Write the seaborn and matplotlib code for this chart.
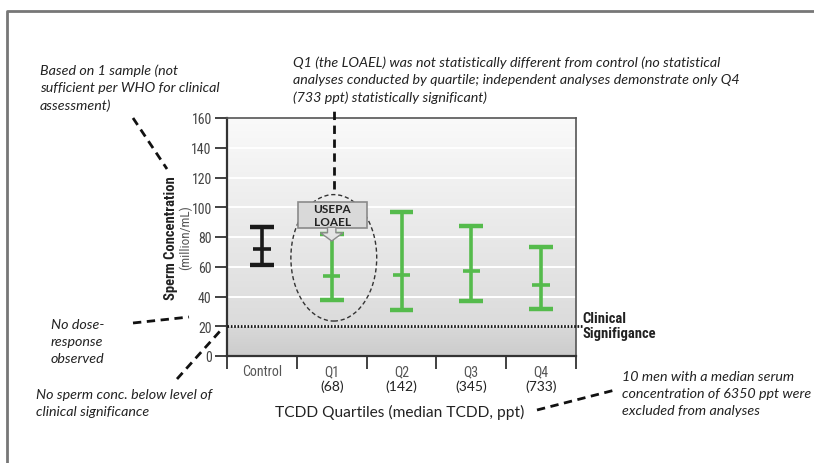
import numpy as np
import pandas as pd
import matplotlib
matplotlib.use("Agg")
import matplotlib.pyplot as plt
import seaborn as sns
from matplotlib import font_manager as fm
from matplotlib.patches import Ellipse, Rectangle, FancyArrow
from matplotlib.lines import Line2D

# ---------------- data ----------------
categories = ["Control", "Q1", "Q2", "Q3", "Q4"]
median_tcdd = ["", "(68)", "(142)", "(345)", "(733)"]
upper = [87, 82, 96.5, 87.5, 73.5]
middle = [72, 54, 54.5, 57, 48]
lower = [61.5, 37.5, 31, 37, 31.5]
clinical_threshold = 20
y_ticks = [0, 20, 40, 60, 80, 100, 120, 140, 160]
group_colors = {"Control": "#1a1a1a", "Q1": "#55bb4c", "Q2": "#55bb4c", "Q3": "#55bb4c", "Q4": "#55bb4c"}

sns.set_theme(style="white")
names = {f.name for f in fm.fontManager.ttflist}
COND, STRETCH = "DejaVu Sans", "condensed"
for cand in ["Liberation Sans Narrow", "Roboto Condensed", "Open Sans Condensed"]:
    if cand in names:
        COND, STRETCH = cand, "normal"
        break
HUM = "Lato" if "Lato" in names else "DejaVu Sans"
plt.rcParams["font.family"] = [HUM, "DejaVu Sans"]
ck = dict(fontfamily=COND, fontstretch=STRETCH)

W, H = 814, 464
fig = plt.figure(figsize=(W / 100, H / 100), dpi=100)
fig.patch.set_facecolor("white")
def fx(px): return px / W
def fy(py): return 1 - py / H

ax = fig.add_axes([fx(227), fy(357), fx(576) - fx(227), fy(119) - fy(357)])

# background gradient
yy = np.linspace(0, 160, 400)
shade = np.where(yy < clinical_threshold, 0.80 + 0.05 * yy / 20, 0.86 + 0.12 * (yy - 20) / 140)
img = np.repeat(np.dstack([shade[:, None]] * 3), 2, axis=1)
ax.imshow(img, extent=(-0.5, 4.5, 0, 160), origin="lower", aspect="auto", zorder=0)
for t in y_ticks[1:-1]:
    ax.axhline(t, color="white", lw=1.4, zorder=1)

# error bars
df = pd.DataFrame({"group": categories, "upper": upper, "middle": middle, "lower": lower})
pos = np.arange(len(categories))
ax.vlines(pos, df["lower"], df["upper"], colors=[group_colors[c] for c in categories], lw=2.6, zorder=3)
caps = df.melt(id_vars="group", value_vars=["upper", "lower"], value_name="value")
sns.scatterplot(data=caps, x="group", y="value", hue="group", palette=group_colors, marker="_",
                s=290, linewidth=3.2, legend=False, ax=ax, zorder=4)
sns.scatterplot(data=df, x="group", y="middle", hue="group", palette=group_colors, marker="_",
                s=160, linewidth=2.6, legend=False, ax=ax, zorder=4)

# clinical significance line
ax.plot([-0.5, 4.58], [clinical_threshold] * 2, color="#111", lw=2.0, ls=(0, (0.6, 0.6)),
        clip_on=False, zorder=5)
ax.text(4.59, clinical_threshold + 0.5, "Clinical\nSignifigance", fontweight="bold",
        fontsize=10.5, color="#222", va="center", ha="left", linespacing=1.15, clip_on=False, **ck)

ax.set_xlim(-0.5, 4.5)
ax.set_ylim(0, 160)
ax.set_yticks(y_ticks)
ax.set_yticklabels([str(t) for t in y_ticks], fontsize=10, color="#444", **ck)
ax.set_xticks(pos)
ax.set_xticklabels(["" for _ in categories])
ax.set_xticks(np.arange(-0.5, 5, 1), minor=True)
ax.tick_params(axis="y", which="major", length=9, width=1.3, color="#333", direction="out", pad=2, left=True)
ax.tick_params(axis="x", which="major", length=0)
ax.tick_params(axis="x", which="minor", length=9, width=1.3, color="#333", direction="out", bottom=True)
ax.set_xlabel("")
ax.set_ylabel("")
for s in ["left", "bottom"]:
    ax.spines[s].set_color("#333")
    ax.spines[s].set_linewidth(1.6)
for s in ["right", "top"]:
    ax.spines[s].set_color("#555")
    ax.spines[s].set_linewidth(1.2)

for i, (c, m) in enumerate(zip(categories, median_tcdd)):
    ax.text(i, -5.5, c, fontsize=10, color="#555", ha="center", va="top", clip_on=False, **ck)
    if m:
        ax.text(i, -16.0, m, fontsize=10, color="#222", ha="center", va="top", clip_on=False)

# y label
fig.text(fx(171), fy(238), "Sperm Concentration", rotation=90, fontweight="bold",
         fontsize=10.5, color="#222", ha="center", va="center", **ck)
fig.text(fx(185), fy(238), "(million/mL)", rotation=90,
         fontsize=9.5, color="#555", ha="center", va="center", **ck)
fig.text(fx(400), fy(412), "TCDD Quartiles (median TCDD, ppt)", fontsize=11.2, color="#222",
         ha="center", va="center")

# LOAEL ellipse, box and arrow
ax.add_patch(Ellipse((1.03, 66), width=1.23, height=85, fill=False, ls=(0, (3, 2)), lw=1.0,
                     ec="#333", zorder=6))
ax.add_patch(Rectangle((0.513, 86), 0.988, 17.5, fc="#d9d9d9", ec="#8a8a8a", lw=1.2, zorder=7))
ax.text(1.007, 94.8, "USEPA\nLOAEL", fontweight="bold", fontsize=8.5, color="#222",
        ha="center", va="center", linespacing=1.25, zorder=8)
ax.add_patch(FancyArrow(1.0, 86.5, 0, -9.2, width=0.12, head_width=0.32, head_length=5.5,
                        length_includes_head=True, fc="#e4e4e4", ec="#8a8a8a", lw=1.0, zorder=7))
ax.plot([1.03, 1.03], [112, 165], color="#111", lw=2, ls=(0, (3, 2)), clip_on=False, zorder=6)

# annotation leader lines (figure coords)
def dashed(p0, p1):
    fig.add_artist(Line2D([fx(p0[0]), fx(p1[0])], [fy(p0[1]), fy(p1[1])], color="#111", lw=2,
                          ls=(0, (3, 2)), transform=fig.transFigure))
dashed((133, 119), (167, 170))
dashed((133, 324), (189, 318))
dashed((177, 380), (221, 331))
dashed((537, 411), (615, 391))

# annotation texts
tkw = dict(fontstyle="italic", fontsize=10.3, color="#222", ha="left", va="center", linespacing=1.5)
fig.text(fx(40), fy(88.5), "Based on 1 sample (not\nsufficient per WHO for clinical\nassessment)", **tkw)
fig.text(fx(293), fy(80), "Q1 (the LOAEL) was not statistically different from control (no statistical\n"
         "analyses conducted by quartile; independent analyses demonstrate only Q4\n"
         "(733 ppt) statistically significant)", **tkw)
fig.text(fx(51), fy(342), "No dose-\nresponse\nobserved", **tkw)
fig.text(fx(36), fy(404), "No sperm conc. below level of\nclinical significance", **tkw)
fig.text(fx(622), fy(394), "10 men with a median serum\nconcentration of 6350 ppt were\nexcluded from analyses", **tkw)

# outer frame
fig.add_artist(Line2D([fx(7), fx(7), 1.01], [-0.01, fy(12), fy(12)], color="#777", lw=2,
                      transform=fig.transFigure))

fig.savefig("out.png", dpi=100)
